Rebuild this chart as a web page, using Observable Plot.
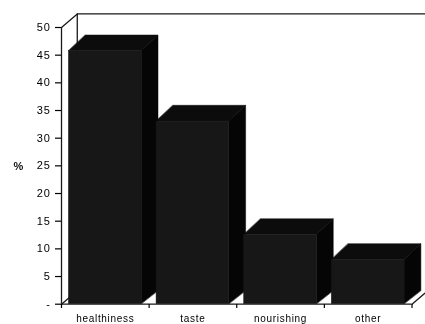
<!DOCTYPE html>
<html><head><meta charset="utf-8">
<script src="https://cdn.jsdelivr.net/npm/d3@7"></script>
<script src="https://cdn.jsdelivr.net/npm/@observablehq/plot@0.6"></script>
<style>html,body{margin:0;padding:0;background:#fff;overflow:hidden}svg{display:block;filter:blur(.6px)}</style>
</head><body><div id="c"></div>
<script>
const categories = ["healthiness", "taste", "nourishing", "other"];
const values = [45.7, 33, 12.5, 8];
const yTicks = [0, 5, 10, 15, 20, 25, 30, 35, 40, 45, 50];
const xEdges = [0, 1, 2, 3, 4];
const depthX = 0.192, depthY = 2.85, floorDepthY = 2.4, barLeft = 0.085, barRight = 0.915;
const wallX = 0.18, wallY = 2.45;

const bars = categories.map((c, i) => ({c, v: values[i], x0: i + barLeft, x1: i + barRight}));
const topFace = bars.flatMap(d => [
  {c: d.c, x1: d.x0, y1: d.v, x2: d.x0 + depthX, y2: d.v + depthY},
  {c: d.c, x1: d.x1, y1: d.v, x2: d.x1 + depthX, y2: d.v + depthY}]);
const sideFace = bars.flatMap(d => [
  {c: d.c, x1: d.x1, y1: 0, x2: d.x1 + depthX, y2: floorDepthY},
  {c: d.c, x1: d.x1, y1: d.v, x2: d.x1 + depthX, y2: d.v + depthY}]);
const areaOpts = {x1: "x1", y1: "y1", x2: "x2", y2: "y2", z: "c"};
const lineStyle = {stroke: "#1a1a1a", strokeWidth: 1.3};
const wallTop = [[0, 50], [wallX, 50 + wallY], [5, 50 + wallY]];
const wallLeft = [[wallX, 50 + wallY], [wallX, wallY]];
const floorLeft = [[0, 0], [wallX, wallY]];
const floorRight = [[4, 0], [4 + wallX, wallY]];

const chart = Plot.plot({
  width: 425, height: 324, marginLeft: 61, marginRight: 13, marginTop: 27, marginBottom: 20,
  style: {background: "#fff", fontFamily: "'Liberation Sans', Arial, sans-serif", fontSize: "10px", letterSpacing: "0.7px", color: "#000"},
  x: {type: "linear", domain: [0, 4], range: [61, 411.5]},
  y: {domain: [0, 50], range: [303.7, 27]},
  marks: [
    Plot.line(wallTop, lineStyle),
    Plot.line(wallLeft, lineStyle),
    Plot.line(floorLeft, lineStyle),
    Plot.line(floorRight, lineStyle),
    Plot.area(topFace, {...areaOpts, fill: "#0c0c0c", stroke: "#0c0c0c", strokeWidth: 0.5}),
    Plot.area(sideFace, {...areaOpts, fill: "#050505", stroke: "#050505", strokeWidth: 0.5}),
    Plot.rectY(bars, {x1: "x0", x2: "x1", y1: 0, y2: "v", fill: "#171717", stroke: "#171717", strokeWidth: 0.5}),
    Plot.ruleX([0], {y1: 0, y2: 50, ...lineStyle}),
    Plot.ruleY([0], {x1: 0, x2: 4, ...lineStyle}),
    Plot.axisY({ticks: yTicks, tickFormat: d => d === 0 ? "-" : String(d), tickSize: 6, tickPadding: 5, label: null, strokeWidth: 1.2, fontSize: 11}),
    Plot.axisX({ticks: xEdges, tickFormat: () => "", tickSize: 4, label: null, strokeWidth: 1.2}),
    Plot.axisX({ticks: categories.map((c, i) => i + 0.5), tickFormat: d => categories[Math.floor(d)], tickSize: 0, tickPadding: 10, label: null, fontSize: 10}),
    Plot.text(["%"], {frameAnchor: "left", dx: -48, dy: 0, fontSize: 11, fontWeight: "bold", fill: "#111"})
  ]
});
document.getElementById("c").append(chart);
</script></body></html>
